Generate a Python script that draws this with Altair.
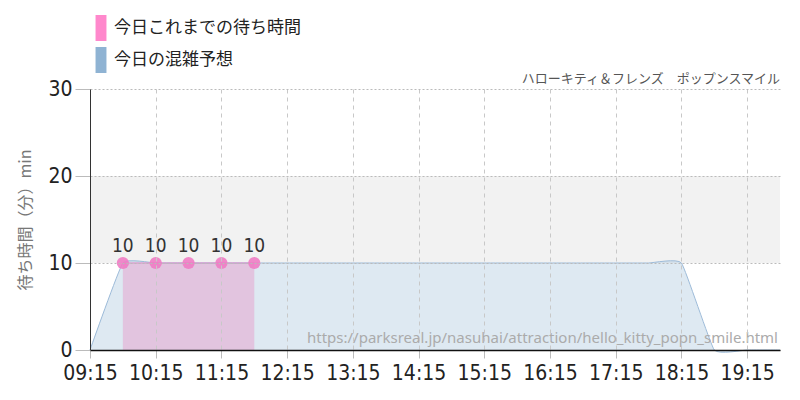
import altair as alt
import pandas as pd

# ---------------- data ----------------
forecast_times = ["09:15", "09:45", "10:15", "10:45", "11:15", "11:45", "12:15", "12:45",
                  "13:15", "13:45", "14:15", "14:45", "15:15", "15:45", "16:15", "16:45",
                  "17:15", "17:45", "18:15", "18:45", "19:15", "19:45"]
forecast_values = [0, 10, 10, 10, 10, 10, 10, 10,
                   10, 10, 10, 10, 10, 10, 10, 10,
                   10, 10, 10, 0, 0, 0]

actual_times = ["09:45", "10:15", "10:45", "11:15", "11:45"]
actual_values = [10, 10, 10, 10, 10]

grid_times = forecast_times
label_times = ["09:15", "10:15", "11:15", "12:15", "13:15", "14:15",
               "15:15", "16:15", "17:15", "18:15", "19:15"]
y_ticks = [0, 10, 20, 30]
band_range = [10, 20]

series_names = ["今日これまでの待ち時間", "今日の混雑予想"]
series_colors = ["#ff88cc", "#8fb3d3"]

title_text = "ハローキティ＆フレンズ　ポップンスマイル"
y_title = "待ち時間（分）min"
source_url = "https://parksreal.jp/nasuhai/attraction/hello_kitty_popn_smile.html"


def to_min(t):
    h, m = t.split(":")
    return int(h) * 60 + int(m)


forecast_df = pd.DataFrame({"t": [to_min(t) for t in forecast_times], "v": forecast_values})
actual_df = pd.DataFrame({"t": [to_min(t) for t in actual_times], "v": actual_values})
band_df = pd.DataFrame({"y": [band_range[0]], "y2": [band_range[1]]})
legend_df = pd.DataFrame({"s": series_names})

grid_mins = [to_min(t) for t in grid_times]
label_mins = [to_min(t) for t in label_times]
xmin, xmax = grid_mins[0], grid_mins[-1]
ymax = y_ticks[-1]

NUM_FONT = "Liberation Sans Narrow, DejaVu Sans Condensed, Roboto, sans-serif"
JP_FONT = "Noto Sans CJK JP"

mins_js = "[" + ",".join(str(m) for m in label_mins) + "]"
labs_js = "[" + ",".join("'" + l + "'" for l in label_times) + "]"
label_expr = f"indexof({mins_js}, datum.value) >= 0 ? {labs_js}[indexof({mins_js}, datum.value)] : ''"
tick_test = f"indexof({mins_js}, datum.value) >= 0"

x_axis = alt.Axis(
    values=grid_mins, labelExpr=label_expr, title=None,
    labelFont=NUM_FONT, labelFontSize=21, labelColor="#222",
    labelFlush=False, labelOverlap=False, labelPadding=4,
    tickColor="#bbb", tickSize=8,
    tickOpacity={"condition": {"test": tick_test, "value": 1}, "value": 0},
    domainColor="#111", domainWidth=1.5,
    gridColor="#c8c8c8", gridDash=[4, 4], zindex=1,
)
x_scale = alt.Scale(domain=[xmin, xmax], nice=False, zero=False)
X = alt.X("t:Q", scale=x_scale, axis=x_axis)

y_axis = alt.Axis(
    values=y_ticks, title=y_title, titleFont=JP_FONT, titleFontSize=16,
    titleColor="#777", titleFontWeight="normal", titlePadding=14,
    labelFont=NUM_FONT, labelFontSize=21, labelColor="#222", labelPadding=3,
    tickColor="#bbb", tickSize=15, domainColor="#333",
    gridColor="#bbb", gridDash=[2, 2], zindex=1,
)
y_scale = alt.Scale(domain=[0, 30], nice=False)
Y = alt.Y("v:Q", scale=y_scale, axis=y_axis)

band = alt.Chart(band_df).mark_rect(color="#f2f2f2").encode(
    y=alt.Y("y:Q", scale=y_scale, axis=y_axis), y2="y2:Q"
)

fc_area = alt.Chart(forecast_df).mark_area(
    color="#8fb3d3", opacity=0.29, interpolate="cardinal", tension=0.65
).encode(x=X, y=Y)

fc_line = alt.Chart(forecast_df).mark_line(
    color="#9dbbd9", strokeWidth=1, interpolate="cardinal", tension=0.65
).encode(x=X, y=Y)

ac_area = alt.Chart(actual_df).mark_area(color="#e98bc4", opacity=0.4).encode(x=X, y=Y)
ac_line = alt.Chart(actual_df).mark_line(color="#dc86c6", strokeWidth=1).encode(x=X, y=Y)
ac_pts = alt.Chart(actual_df).mark_circle(size=150, color="#f07cc4", opacity=0.9).encode(x=X, y=Y)
ac_lbl = alt.Chart(actual_df).mark_text(
    font=NUM_FONT, fontSize=19, color="#333", baseline="alphabetic", dy=-11
).encode(x=X, y=Y, text="v:Q")

watermark = alt.Chart(band_df).mark_text(
    text=source_url, align="right", baseline="alphabetic", dx=-2, dy=-7,
    font="Noto Sans", fontSize=15, color="#ababab"
).encode(x=alt.datum(xmax, type="quantitative"), y=alt.datum(0, type="quantitative"))

title_mark = alt.Chart(band_df).mark_text(
    text=title_text, align="right", baseline="alphabetic", dx=0, dy=-6,
    font=JP_FONT, fontSize=13, color="#555"
).encode(x=alt.datum(xmax, type="quantitative"), y=alt.datum(ymax, type="quantitative"))

legend_layer = alt.Chart(legend_df).mark_square(opacity=0).encode(
    color=alt.Color(
        "s:N",
        scale=alt.Scale(domain=series_names, range=series_colors),
        legend=alt.Legend(
            orient="none", legendX=-2, legendY=-74, title=None,
            symbolType="M-0.42,-1H0.42V1H-0.42Z", symbolSize=676,
            symbolOpacity=1, symbolStrokeWidth=0,
            labelFont=JP_FONT, labelFontSize=17, labelColor="#222",
            labelOffset=0, rowPadding=6, padding=0, labelLimit=0,
        ),
    )
)

chart = alt.layer(
    band, fc_area, ac_area, fc_line, ac_line, ac_pts, ac_lbl, watermark, title_mark, legend_layer
).properties(
    width=690, height=261,
    autosize=alt.AutoSizeParams(type="none"),
    padding={"left": 90, "top": 89, "right": 20, "bottom": 50},
).configure_view(stroke=None)

chart.save("out.html", embed_options={"renderer": "svg", "actions": False})
